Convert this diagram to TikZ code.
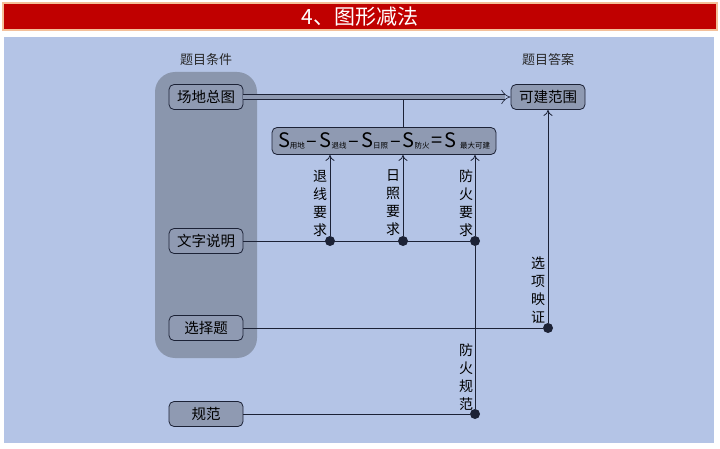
\documentclass[tikz,border=0pt]{standalone}
\usepackage{fontspec}
\newfontfamily\cjk{Noto Sans CJK SC}
\usetikzlibrary{arrows.meta,positioning,calc}
\definecolor{titlered}{HTML}{C00000}
\definecolor{titleedge}{HTML}{F4C09A}
\definecolor{panelblue}{HTML}{B4C4E6}
\definecolor{groupgray}{HTML}{8A96AD}
\definecolor{boxgray}{HTML}{8F9AB2}
\definecolor{linecol}{HTML}{1C2236}

\begin{document}
\begin{tikzpicture}[%
    x=1pt, y=-1pt,                     % pixel-like grid, top-left origin
    >={To[length=6pt,width=9pt]},      % open arrow heads
    every node/.style={font=\cjk}
    ]

\tikzset{
    item/.style={draw=linecol, thick, rounded corners=5pt, fill=boxgray, minimum width=74pt, minimum height=25pt, inner sep=2pt, font={\cjk\fontsize{14.5}{16}\selectfont}},
    head/.style={font={\cjk\fontsize{13}{15}\selectfont}, text=black!85},
    spot/.style={circle, inner sep=0pt, minimum size=10pt, fill=linecol},
    vlabel/.style={align=center, inner sep=0pt, font={\cjk\fontsize{14}{18}\selectfont}},
    % Connector styles
    conn/.style={thick, linecol},
    fforw/.style={->, thick, linecol},
    dbl/.style={draw=linecol, semithick, double=boxgray, double distance=4.5pt, -{Implies[length=8pt]}},
}
\newcommand{\sub}[1]{\raisebox{-1pt}{\fontsize{7.5}{8}\selectfont #1}}

\useasboundingbox (0,0) rectangle (720,449);

%% Title and panel
\fill[white] (0,0) rectangle (720,449);
\draw[titleedge, line width=1.5pt, fill=titlered] (3,3) rectangle (717,30);
\node[text=white, font={\cjk\fontsize{21}{24}\selectfont}] (title) at (360,17) {4、图形减法};
\fill[panelblue] (4,37) rectangle (714,443);
\fill[groupgray, rounded corners=20pt] (155,72) rectangle (257,358);

\node[head] (given) at (206,60) {题目条件};
\node[head] (answer) at (548,60) {题目答案};

%% Boxes
\node[item] (site) at (206,97) {场地总图};
\node[item] (area) at (548,97) {可建范围};
\node[item] (text) at (206,241) {文字说明};
\node[item] (choice) at (206,328) {选择题};
\node[item] (code) at (206,414) {规范};
\node[item, minimum width=224pt, minimum height=27pt, inner sep=0pt, text width=212pt, align=left] (formula) at (384,141)
    {\fontsize{20}{24}\selectfont S\sub{用地}\hfill–\hfill S\sub{退线}\hfill–\hfill S\sub{日照}\hfill–\hfill S\sub{防火}\hfill=\hfill S\,\sub{最大可建}};

%% Top flow
\coordinate (jt) at (403,97);
    \draw [conn] (jt) -- (jt |- formula.north);
    \draw [dbl] (site) -- (area);

%% Requirements
\node [spot] (d1) at (330,241) {};
\node [spot] (d2) at (403,241) {};
\node [spot] (d3) at (475,241) {};
    \draw [conn] (text) -- (d3);
    \draw [fforw] (d1) -- (d1 |- formula.south);
    \draw [fforw] (d2) -- (d2 |- formula.south);
    \draw [fforw] (d3) -- (d3 |- formula.south);
\node [vlabel] (l1) at (320,203) {退\\线\\要\\求};
\node [vlabel] (l2) at (393,203) {日\\照\\要\\求};
\node [vlabel] (l3) at (466,203) {防\\火\\要\\求};

%% Choice check
\node [spot] (d4) at (548,328) {};
    \draw [conn] (choice) -- (d4);
    \draw [fforw] (d4) -- (area);
\node [vlabel] (l4) at (538,290) {选\\项\\映\\证};

%% Fire code
\node [spot] (d5) at (475,414) {};
    \draw [conn] (code) -- (d5) -- (d3);
\node [vlabel] (l5) at (466,377) {防\\火\\规\\范};
\end{tikzpicture}
\end{document}
